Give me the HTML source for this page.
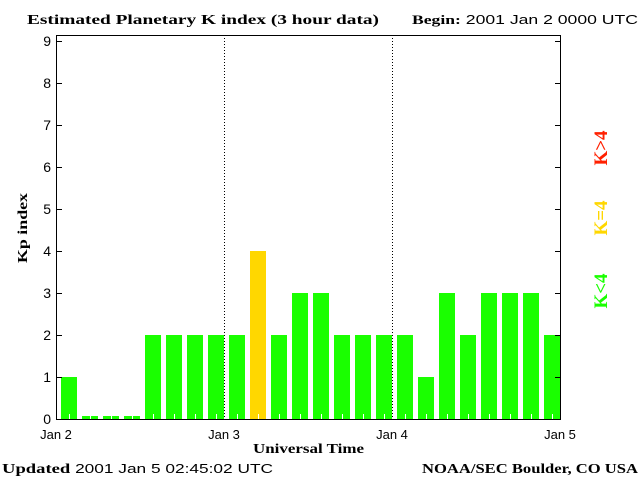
<!DOCTYPE html>
<html><head><meta charset="utf-8"><style>
body{margin:0;background:#fff;width:640px;height:480px;overflow:hidden}
svg text{font-family:"Liberation Sans",sans-serif}
.b{font-family:"Liberation Serif",serif;font-weight:bold}
</style></head><body>
<svg id="c" width="640" height="480">
<text class="b" x="27" y="24" font-size="14" textLength="352" lengthAdjust="spacingAndGlyphs">Estimated Planetary K index (3 hour data)</text>
<text x="412" y="24" font-size="13" textLength="226" lengthAdjust="spacingAndGlyphs"><tspan class="b">Begin:</tspan> 2001 Jan 2 0000 UTC</text>
<text class="b" x="0" y="0" font-size="14" transform="translate(27,228) rotate(-90)" text-anchor="middle" textLength="70" lengthAdjust="spacingAndGlyphs">Kp index</text>
<text class="b" x="253" y="453" font-size="14" textLength="111" lengthAdjust="spacingAndGlyphs">Universal Time</text>
<text x="2" y="473" font-size="13" textLength="271" lengthAdjust="spacingAndGlyphs"><tspan class="b" font-size="14">Updated</tspan> 2001 Jan  5 02:45:02 UTC</text>
<text class="b" x="422" y="473" font-size="14" textLength="216" lengthAdjust="spacingAndGlyphs">NOAA/SEC Boulder, CO USA</text>
<text class="b" font-size="19" fill="#ff2000" text-anchor="middle" transform="translate(607,148) rotate(-90)">K&gt;4</text>
<text class="b" font-size="19" fill="#ffd700" text-anchor="middle" transform="translate(607,218) rotate(-90)">K=4</text>
<text class="b" font-size="19" fill="#1aff00" text-anchor="middle" transform="translate(607,291) rotate(-90)">K&lt;4</text>
<g id="g"></g>
</svg>
<script>
const kpValues=[1,0,0,0,2,2,2,2,2,4,2,3,3,2,2,2,2,1,3,2,3,3,3,2];
const yTicks=[0,1,2,3,4,5,6,7,8,9];
const dayLabels=["Jan 2","Jan 3","Jan 4","Jan 5"];
const X0=56,X1=560,Y0=419,YT=35,ys=(419-41)/9;
const y=v=>Y0-v*ys;
const xDay=d=>X0+d*(X1-X0)/(dayLabels.length-1);
const xBar=i=>X0+i*(X1-X0)/kpValues.length;
const NS="http://www.w3.org/2000/svg",g=document.getElementById('g');
function mk(t,a){const e=document.createElementNS(NS,t);for(const k in a)e.setAttribute(k,a[k]);g.appendChild(e);return e;}
const bw=(X1-X0)/kpValues.length;
kpValues.forEach((v,i)=>{
 const top=v===0?Y0-3:y(v);
 const col=v>4?"#ff2000":v===4?"#ffd700":"#1aff00";
 const r=mk('rect',{x:xBar(i)+5,y:top,width:16,height:Y0-top,fill:col});
 
 
 const t=mk('line',{x1:xBar(i)+13.5,x2:xBar(i)+13.5,y1:Y0-5,y2:Y0,stroke:"#fff"});
 
 
});
for(let d=1;d<dayLabels.length-1;d++){
 const l=mk('line',{x1:xDay(d)+.5,x2:xDay(d)+.5,y1:YT,y2:Y0,stroke:"#000","stroke-dasharray":"1,2"});
 
 
}
const f=mk('rect',{x:X0+.5,y:YT+.5,width:X1-X0,height:Y0-YT,fill:"none",stroke:"#000"});


yTicks.forEach(v=>{
 const a=mk('line',{x1:X0,x2:X0+6,y1:y(v)+.5,y2:y(v)+.5,stroke:"#000"});
 
 
 const b=mk('line',{x1:X1-5,x2:X1,y1:y(v)+.5,y2:y(v)+.5,stroke:"#000"});
 
 
 const t=mk('text',{x:X0-5,y:y(v)+5,"font-size":"14","text-anchor":"end"});
 t.textContent=v;
 
 
});
dayLabels.forEach((s,d)=>{
 const t=mk('text',{x:xDay(d),y:439,"font-size":"13","text-anchor":"middle"});
 t.textContent=s;
 
 
});
</script>
</body></html>
